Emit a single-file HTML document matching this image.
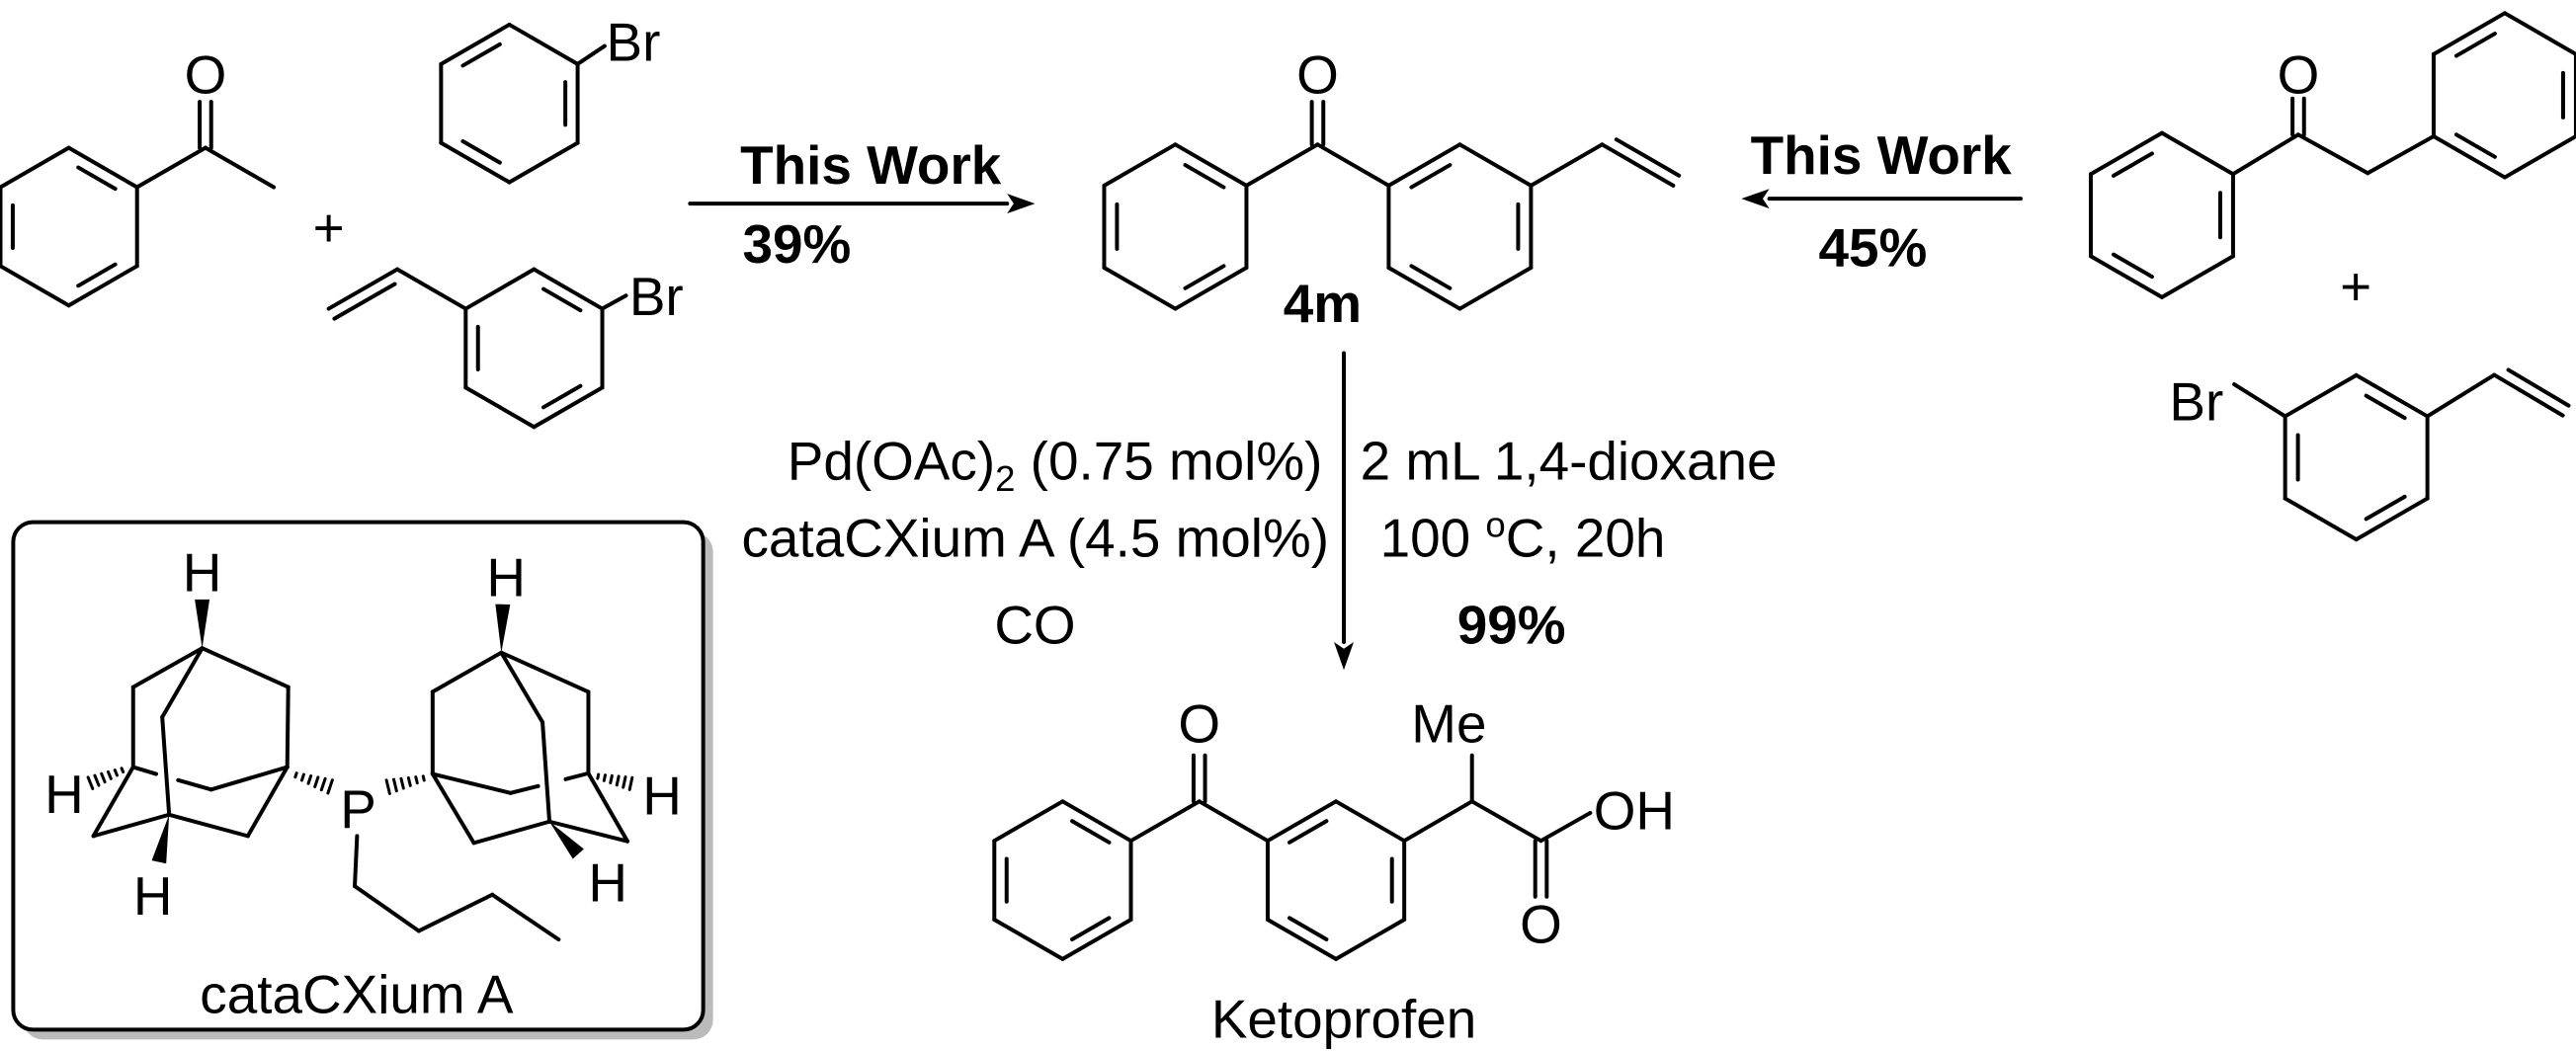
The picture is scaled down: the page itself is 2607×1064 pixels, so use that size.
<!DOCTYPE html>
<html><head><meta charset="utf-8"><style>
html,body{margin:0;padding:0;background:#fff;}
svg{display:block;}
text{font-family:"Liberation Sans",Arial,sans-serif;fill:#000;}
</style></head><body>
<svg id="s" width="2607" height="1064" viewBox="0 0 1568 640" xmlns="http://www.w3.org/2000/svg">
<g id="g" stroke="#000" stroke-width="2.4" fill="none" stroke-linecap="round" stroke-linejoin="round"></g>
<g font-size="33">
<text x="125" y="57" text-anchor="middle">O</text>
<text x="200" y="150" text-anchor="middle">+</text>
<text x="369" y="37">Br</text>
<text x="383" y="192">Br</text>
<text x="530" y="112" text-anchor="middle" font-weight="bold">This Work</text>
<text x="485" y="160" text-anchor="middle" font-weight="bold">39%</text>
<text x="802" y="57" text-anchor="middle">O</text>
<text x="805" y="196" text-anchor="middle" font-weight="bold">4m</text>
<text x="1145" y="106" text-anchor="middle" font-weight="bold">This Work</text>
<text x="1140" y="162" text-anchor="middle" font-weight="bold">45%</text>
<text x="1399" y="57" text-anchor="middle">O</text>
<text x="1434" y="186" text-anchor="middle">+</text>
<text x="1337" y="256" text-anchor="middle">Br</text>
<text x="805" y="292" text-anchor="end">Pd(OAc)<tspan font-size="22" dy="7">2</tspan><tspan dy="-7"> (0.75 mol%)</tspan></text>
<text x="809" y="339" text-anchor="end">cataCXium A (4.5 mol%)</text>
<text x="630" y="392" text-anchor="middle">CO</text>
<text x="828" y="292">2 mL 1,4-dioxane</text>
<text x="840" y="339">100 <tspan font-size="22" dy="-12">o</tspan><tspan dy="12">C, 20h</tspan></text>
<text x="920" y="392" text-anchor="middle" font-weight="bold">99%</text>
<text x="730" y="452" text-anchor="middle">O</text>
<text x="882" y="452" text-anchor="middle">Me</text>
<text x="970" y="505">OH</text>
<text x="938" y="574" text-anchor="middle">O</text>
<text x="818" y="632" text-anchor="middle">Ketoprofen</text>
<text x="123" y="360" text-anchor="middle">H</text>
<text x="39" y="495" text-anchor="middle">H</text>
<text x="93" y="557" text-anchor="middle">H</text>
<text x="218" y="504" text-anchor="middle">P</text>
<text x="308" y="363" text-anchor="middle">H</text>
<text x="403" y="496" text-anchor="middle">H</text>
<text x="370" y="549" text-anchor="middle">H</text>
<text x="217" y="617" text-anchor="middle">cataCXium A</text>
</g>
</svg>
<script>
var g=document.getElementById('g');var NS='http://www.w3.org/2000/svg';
function L(a,b,c,d,ex){var e=document.createElementNS(NS,'line');e.setAttribute('x1',a);e.setAttribute('y1',b);e.setAttribute('x2',c);e.setAttribute('y2',d);if(ex)for(var k in ex)e.setAttribute(k,ex[k]);g.appendChild(e);}
function P(pts,fill){var e=document.createElementNS(NS,'polygon');e.setAttribute('points',pts);if(fill){e.setAttribute('fill','#000');e.setAttribute('stroke','none');}g.appendChild(e);return e;}
function V(cx,cy,r){var v=[];for(var i=0;i<6;i++){var a=(-90+60*i)*Math.PI/180;v.push([cx+r*Math.cos(a),cy+r*Math.sin(a)]);}return v;}
function ring(cx,cy,r,d){var v=V(cx,cy,r);for(var i=0;i<6;i++){var p=v[i],q=v[(i+1)%6];L(p[0],p[1],q[0],q[1]);}
 d.forEach(function(i){var p=v[i],q=v[(i+1)%6];var f=0.82,s=0.17;var pi=[cx+(p[0]-cx)*f,cy+(p[1]-cy)*f],qi=[cx+(q[0]-cx)*f,cy+(q[1]-cy)*f];
 L(pi[0]+(qi[0]-pi[0])*s,pi[1]+(qi[1]-pi[1])*s,qi[0]+(pi[0]-qi[0])*s,qi[1]+(pi[1]-qi[1])*s);});return v;}
function dbl(a,b,c,d,side){var dx=c-a,dy=d-b,l=Math.hypot(dx,dy),nx=-dy/l*7*side,ny=dx/l*7*side;L(a,b,c,d);L(a+nx+dx*0.12,b+ny+dy*0.12,c+nx-dx*0.0,d+ny-dy*0.0);}
function dblC(a,b,c,d){var dx=c-a,dy=d-b,l=Math.hypot(dx,dy),nx=-dy/l*3.5,ny=dx/l*3.5;L(a+nx,b+ny,c+nx,d+ny);L(a-nx,b-ny,c-nx,d-ny);}
function arrow(x1,y1,x2,y2){var dx=x2-x1,dy=y2-y1,l=Math.hypot(dx,dy),ux=dx/l,uy=dy/l;var bx=x2-ux*17,by=y2-uy*17;L(x1,y1,bx,by);
 P(x2+','+y2+' '+(bx-uy*6)+','+(by+ux*6)+' '+(bx+ux*4)+','+(by+uy*4)+' '+(bx+uy*6)+','+(by-ux*6),true);}
function wedge(x1,y1,x2,y2,w){var dx=x2-x1,dy=y2-y1,l=Math.hypot(dx,dy),nx=-dy/l*w,ny=dx/l*w;P(x1+','+y1+' '+(x2+nx)+','+(y2+ny)+' '+(x2-nx)+','+(y2-ny),true);}
function hash(x1,y1,x2,y2,w){var n=6;for(var i=0;i<n;i++){var t=(i+0.5)/n,x=x1+(x2-x1)*t,y=y1+(y2-y1)*t;var dx=x2-x1,dy=y2-y1,l=Math.hypot(dx,dy),hw=1+w*t,nx=-dy/l*hw,ny=dx/l*hw;L(x+nx,y+ny,x-nx,y-ny,{'stroke-width':1.8});}}
var v=ring(41.8,138,48,[0,2,4]);L(v[1][0],v[1][1],125,90);dblC(125,90,125,62);L(125,90,166.6,114);
v=ring(310,63,48,[5,1,3]);L(v[1][0],v[1][1],368,28);
v=ring(325,212,48,[0,2,4]);L(v[1][0],v[1][1],381,180);L(v[5][0],v[5][1],241.8,164);dbl(241.8,164,200,188,-1);
v=ring(715.4,138,50,[0,2,4]);L(v[1][0],v[1][1],802,88);dblC(802,88,802,62);
var w=ring(888.6,138,50,[5,1,3]);L(802,88,w[5][0],w[5][1]);L(w[1][0],w[1][1],975.2,88);dbl(975.2,88,1018.5,113,-1);
v=ring(1316,131,50,[5,1,3]);L(v[1][0],v[1][1],1399,82);dblC(1399,82,1399,60);L(1399,82,1441.3,105.4);
w=ring(1524.7,58,50,[5,1,3]);L(1441.3,105.4,w[4][0],w[4][1]);
v=ring(1434.3,278.5,50,[0,2,4]);L(v[5][0],v[5][1],1360,234);L(v[1][0],v[1][1],1518.3,228.3);dbl(1518.3,228.3,1560,253,-1);
arrow(420,124,630,124);arrow(1230,121,1060,121);arrow(818,215,818,408);
v=ring(646.8,536,48,[0,2,4]);L(v[1][0],v[1][1],730,488);dblC(730,488,730,460);
w=ring(813.2,536,48,[5,1,3]);L(730,488,w[5][0],w[5][1]);L(w[1][0],w[1][1],896,488);L(896,488,896,460);L(896,488,938,512);L(938,512,968,495);dblC(938,512,938,546);
var r1=document.createElementNS(NS,'rect');r1.setAttribute('x',14);r1.setAttribute('y',324);r1.setAttribute('width',420);r1.setAttribute('height',309);r1.setAttribute('rx',12);r1.setAttribute('fill','#bbb');r1.setAttribute('stroke','none');g.insertBefore(r1,g.firstChild);
var r2=document.createElementNS(NS,'rect');r2.setAttribute('x',8);r2.setAttribute('y',318);r2.setAttribute('width',420);r2.setAttribute('height',309);r2.setAttribute('rx',12);r2.setAttribute('fill','#fff');g.insertBefore(r2,r1.nextSibling);
var A={t:[123,394.7],lu:[81,418.4],ru:[175.4,418.4],bk:[98.7,436.7],lc:[81,467.1],rc:[174.8,467.1],bt:[102.9,496.1],ll:[56.8,509.1],lr:[150.8,509.1],md:[128.5,480.8]};
function B(p,q){L(p[0],p[1],q[0],q[1]);}
B(A.t,A.lu);B(A.t,A.ru);B(A.t,A.bk);B(A.lu,A.lc);B(A.ru,A.rc);B(A.bk,A.bt);B(A.lc,A.ll);B(A.ll,A.bt);B(A.bt,A.lr);B(A.lr,A.rc);B(A.rc,A.md);B(A.md,[108.4,475.1]);B(A.lc,[95,471.3]);
wedge(123,394.7,123,365,4.5);hash(76.4,468.2,53,477.6,3);wedge(102.9,496.1,96.7,524.9,4.5);hash(178,471.3,203,479.7,3.5);
L(217.3,509.1,215.9,539.6);L(215.9,539.6,254.9,566.9);L(254.9,566.9,299.6,544.8);L(299.6,544.8,340,572.1);
var C={t:[305.1,397.4],lu:[263.3,421.3],ru:[358.1,421.3],bk:[330.2,439.8],lc:[263.3,471.3],rc:[358.1,470.9],bt:[334.4,500.3],ll:[288.4,513.3],lr:[381.9,512.3],md:[310.7,482.9]};
B(C.t,C.lu);B(C.t,C.ru);B(C.t,C.bk);B(C.lu,C.lc);B(C.ru,C.rc);B(C.bk,C.bt);B(C.lc,C.ll);B(C.ll,C.bt);B(C.bt,C.lr);B(C.lr,C.rc);B(C.lc,C.md);B(C.md,[327.5,478.7]);B([344.3,474.5],C.rc);
hash(260,473.4,234,479.7,3.5);wedge(305.1,397.4,306,368,4.5);hash(362,472.4,386,477.6,3);wedge(334.4,500.3,352,520,4.5);
</script>
</body></html>
